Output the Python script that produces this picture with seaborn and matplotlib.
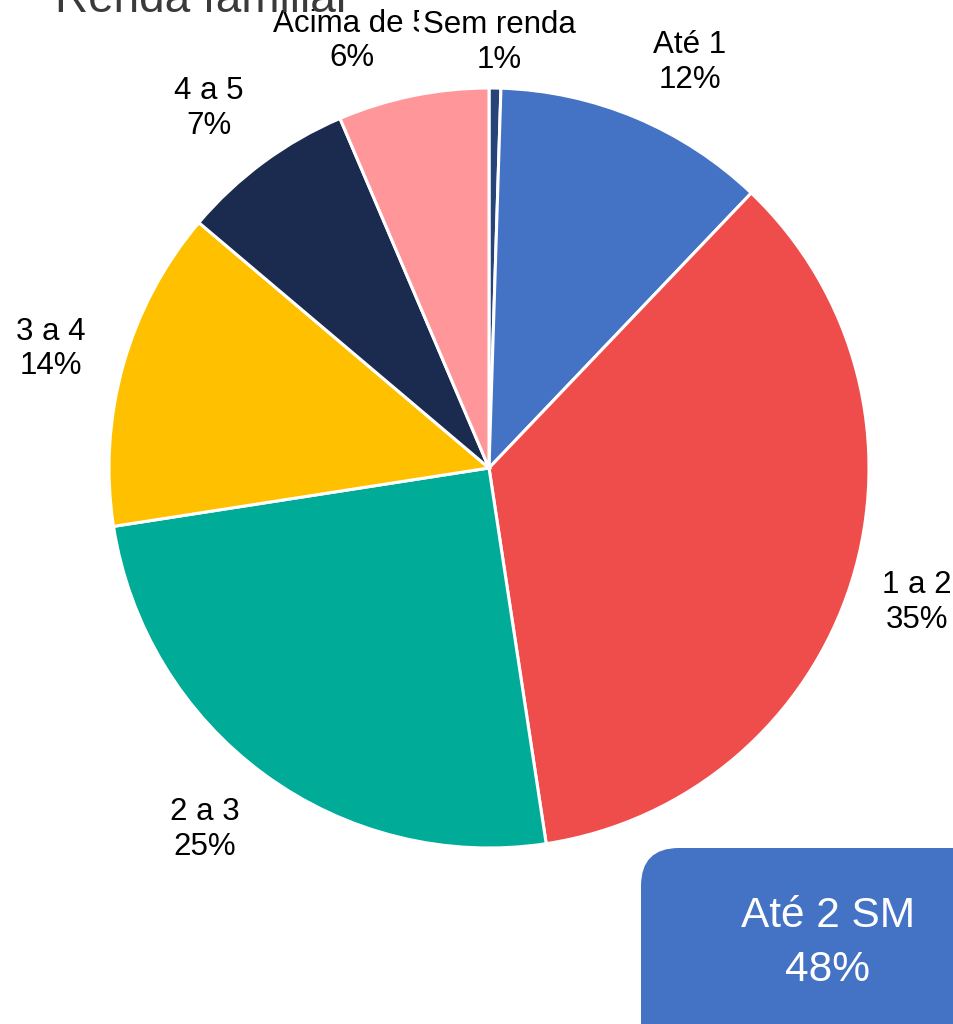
import numpy as np
import matplotlib.pyplot as plt
import seaborn as sns
from matplotlib.patches import FancyBboxPatch

# renda familiar (salarios minimos)
categorias = ["Sem renda", "Até 1", "1 a 2", "2 a 3", "3 a 4", "4 a 5", "Acima de 5"]
valores = [0.5, 11.6, 35.4, 24.9, 13.6, 7.4, 6.4]
cores = ["#264478", "#4472C4", "#EF4D4B", "#00AB98", "#FFC000", "#1A2B4F", "#FF979A"]
ate_2sm = ["Sem renda", "Até 1", "1 a 2"]

sns.set_theme(style="white")
plt.rcParams['font.family'] = ['Liberation Sans', 'DejaVu Sans']

fig = plt.figure(figsize=(9.54, 10.24), dpi=100)
ax = fig.add_axes([0, 0, 1, 1])

wedges, texts = ax.pie(valores, colors=cores, startangle=90, counterclock=False,
                       radius=1.0, wedgeprops=dict(edgecolor="white", linewidth=2.2))

total = sum(valores)
# label placement tweaks (angle nudge in degrees, radial distance)
ajuste = {"Sem renda": (-0.5, 1.12), "Até 1": (-3.6, 1.19), "1 a 2": (0.0, 1.18),
          "2 a 3": (-1.9, 1.21), "3 a 4": (0.5, 1.195), "4 a 5": (1.5, 1.20),
          "Acima de 5": (6.3, 1.18)}
for w, cat, v in zip(wedges, categorias, valores):
    da, dist = ajuste[cat]
    ang = np.deg2rad((w.theta1 + w.theta2) / 2 + da)
    x, y = dist * np.cos(ang), dist * np.sin(ang)
    bbox = dict(facecolor="white", edgecolor="none", pad=3) if cat == "Sem renda" else None
    ax.text(x, y, f"{cat}\n{100 * v / total:.0f}%", ha="center", va="center",
            fontsize=22.5, color="black", linespacing=1.2, bbox=bbox,
            zorder=5 if cat == "Sem renda" else 4)

# caixa resumo
soma = sum(v for c, v in zip(categorias, valores) if c in ate_2sm)
caixa = FancyBboxPatch((0.48, -1.6), 0.9, 0.52, boxstyle="round,pad=0.08,rounding_size=0.1",
                       facecolor="#4472C4", edgecolor="none", zorder=3)
ax.add_patch(caixa)
ax.text(0.892, -1.25, f"Até 2 SM\n{100 * soma / total:.0f}%", ha="center", va="center",
        fontsize=30.5, color="white", linespacing=1.45, zorder=4)

ax.set_xlim(-489 / 380, 465 / 380)
ax.set_ylim(-556 / 380, 468 / 380)
ax.set_aspect("auto")
ax.axis("off")

fig.text(55 / 954, 1 - 12 / 1024, "Renda familiar", fontsize=33, color="#3a3a3a",
         ha="left", va="baseline")

fig.savefig("out.png", dpi=100)
